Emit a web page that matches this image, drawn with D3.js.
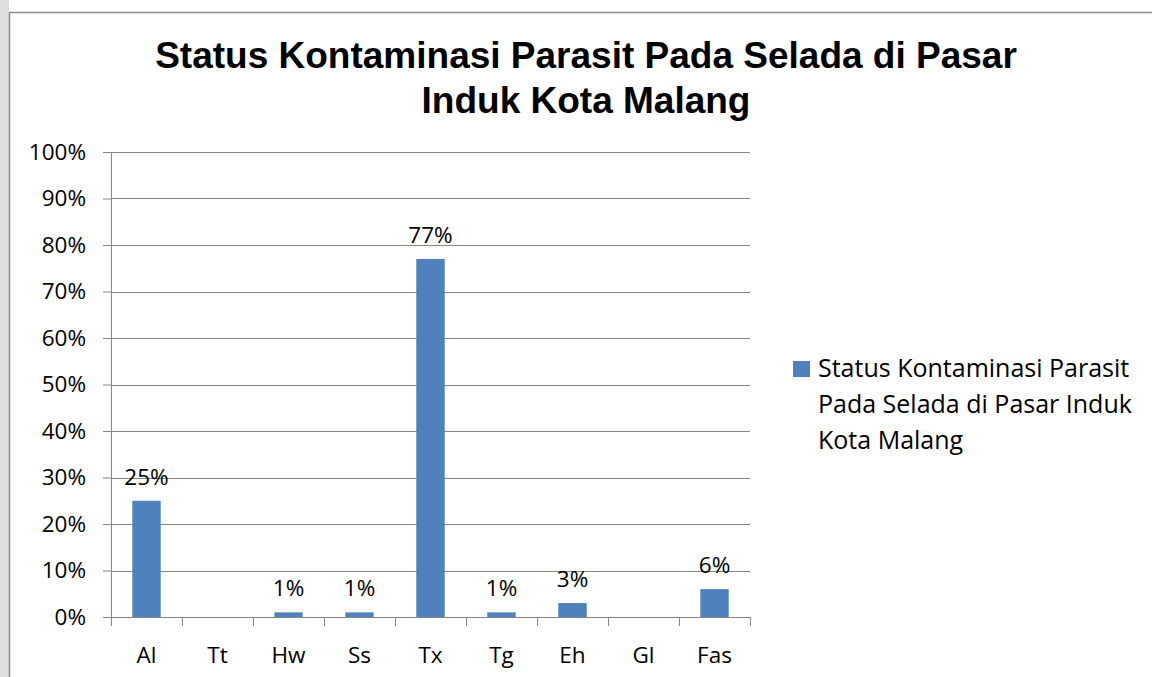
<!DOCTYPE html>
<html>
<head>
<meta charset="utf-8">
<script src="https://cdn.jsdelivr.net/npm/d3@7"></script>
<style>
  body { margin: 0; background: #fff; }
  svg { display: block; }
  .tick text { font-family: "Open Sans", "Noto Sans", sans-serif; font-size: 22.5px; fill: #000; }
  .labelText { font-family: "Open Sans", "Noto Sans", sans-serif; font-size: 22.5px; fill: #000; }
  .legendText { font-family: "Open Sans", "Noto Sans", sans-serif; font-size: 25px; fill: #000; }
</style>
</head>
<body>
<div id="chart"></div>
<script>
////////////////// Data ////////////////////
var categories = ["Al", "Tt", "Hw", "Ss", "Tx", "Tg", "Eh", "Gl", "Fas"];
var values = [0.25, 0, 0.01, 0.01, 0.77, 0.01, 0.03, 0, 0.06];
var labels = ["25%", "", "1%", "1%", "77%", "1%", "3%", "", "6%"];
var yTicks = [0, 0.1, 0.2, 0.3, 0.4, 0.5, 0.6, 0.7, 0.8, 0.9, 1];
var titleLines = ["Status Kontaminasi Parasit Pada Selada di Pasar", "Induk Kota Malang"];
var legendLines = ["Status Kontaminasi Parasit", "Pada Selada di Pasar Induk", "Kota Malang"];

////////////////// Chart Parameters ////////////////////
var svgWidth = 1152;
var svgHeight = 677;
var margin = { top: 152, left: 111 };
var width = 639;
var height = 465;
var barColor = "#4F81BD";

var svg = d3.select("#chart").append("svg")
  .attr("width", svgWidth)
  .attr("height", svgHeight);

////////// Background strip left of the frame //////////
svg.append("rect")
  .attr("x", 0).attr("y", 0)
  .attr("width", 9).attr("height", svgHeight)
  .attr("fill", "#dedede");

////////// Chart frame //////////
svg.append("rect")
  .attr("x", 9.5).attr("y", 12.5)
  .attr("width", svgWidth).attr("height", svgHeight)
  .attr("fill", "#fff")
  .attr("stroke", "#8c8c8c")
  .attr("stroke-width", 1.5);

////////// Title //////////
svg.append("text")
  .attr("x", 586)
  .attr("y", 68)
  .attr("text-anchor", "middle")
  .attr("font-family", "Liberation Sans, Arial, sans-serif")
  .attr("font-weight", "bold")
  .attr("font-size", 37)
  .selectAll("tspan")
  .data(titleLines)
  .enter()
  .append("tspan")
  .attr("x", 586)
  .attr("dy", (d, i) => i === 0 ? 0 : 45)
  .text(d => d);

var chartGroup = svg.append("g")
  .attr("transform", `translate(${margin.left}, ${margin.top})`);

////////// Scales //////////
var xBandScale = d3.scaleBand()
  .domain(categories)
  .range([0, width])
  .paddingInner(0.6)
  .paddingOuter(0.3);

var xEdges = d3.scaleLinear()
  .domain([0, categories.length])
  .range([0, width]);

var yLinearScale = d3.scaleLinear()
  .domain([0, 1])
  .range([height, 0]);

////////// Gridlines //////////
chartGroup.selectAll("line.grid")
  .data(yTicks.slice(1))
  .enter()
  .append("line")
  .attr("class", "grid")
  .attr("x1", 0)
  .attr("x2", width)
  .attr("y1", d => Math.round(yLinearScale(d)) + 0.5)
  .attr("y2", d => Math.round(yLinearScale(d)) + 0.5)
  .attr("stroke", "#868686")
  .attr("stroke-width", 1);

////////// Y Axis //////////
var yAxis = d3.axisLeft(yLinearScale)
  .tickValues(yTicks)
  .tickFormat(d3.format(".0%"))
  .tickSize(8)
  .tickPadding(17);

var yG = chartGroup.append("g").call(yAxis);
yG.selectAll("line").attr("stroke", "#868686");
yG.select(".domain").attr("stroke", "#868686").attr("d", `M0.5,0V${height}`);

////////// Bars //////////
chartGroup.selectAll("rect.bar")
  .data(values)
  .enter()
  .append("rect")
  .attr("class", "bar")
  .attr("x", (d, i) => xBandScale(categories[i]))
  .attr("y", d => yLinearScale(d))
  .attr("width", xBandScale.bandwidth())
  .attr("height", d => height - yLinearScale(d))
  .attr("fill", barColor);

////////// X Axis //////////
chartGroup.append("line")
  .attr("x1", 0).attr("x2", width)
  .attr("y1", height + 0.5).attr("y2", height + 0.5)
  .attr("stroke", "#868686");

chartGroup.selectAll("line.xtick")
  .data(d3.range(categories.length + 1))
  .enter()
  .append("line")
  .attr("class", "xtick")
  .attr("x1", d => xEdges(d) + 0.5)
  .attr("x2", d => xEdges(d) + 0.5)
  .attr("y1", height)
  .attr("y2", height + 9)
  .attr("stroke", "#868686");

chartGroup.selectAll("text.cat")
  .data(categories)
  .enter()
  .append("text")
  .attr("class", "labelText")
  .attr("x", (d, i) => xEdges(i + 0.5))
  .attr("y", height + 46)
  .attr("text-anchor", "middle")
  .text(d => d);

////////// Data labels //////////
chartGroup.selectAll("text.val")
  .data(values)
  .enter()
  .append("text")
  .attr("class", "labelText")
  .attr("x", (d, i) => xEdges(i + 0.5))
  .attr("y", d => yLinearScale(d) - 16)
  .attr("text-anchor", "middle")
  .text((d, i) => labels[i]);

////////// Legend //////////
var legend = svg.append("g");
legend.append("rect")
  .attr("x", 793).attr("y", 361)
  .attr("width", 17).attr("height", 16)
  .attr("fill", barColor);

legend.append("text")
  .attr("class", "legendText")
  .attr("y", 377)
  .selectAll("tspan")
  .data(legendLines)
  .enter()
  .append("tspan")
  .attr("x", 818)
  .attr("dy", (d, i) => i === 0 ? 0 : 36)
  .text(d => d);
</script>
</body>
</html>
